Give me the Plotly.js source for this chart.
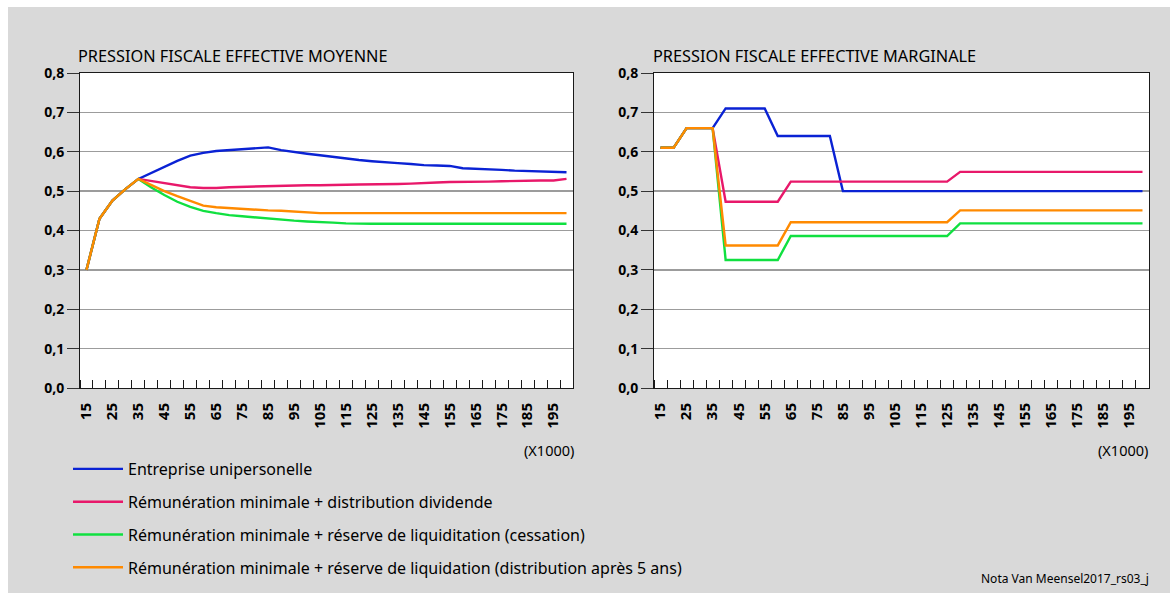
<!DOCTYPE html>
<html>
<head>
<meta charset="utf-8">
<script src="https://cdn.plot.ly/plotly-3.0.1.min.js"></script>
<style>html,body{margin:0;padding:0;background:#fff;}#chart{width:1170px;height:593px;}</style>
</head>
<body>
<div id="chart"></div>
<script>
// Income levels (x1000 EUR)
const incomes = [15,20,25,30,35,40,45,50,55,60,65,70,75,80,85,90,95,100,105,110,115,120,125,130,135,140,145,150,155,160,165,170,175,180,185,190,195,200];

const seriesNames = [
  "Entreprise unipersonelle",
  "Rémunération minimale + distribution dividende",
  "Rémunération minimale + réserve de liquiditation (cessation)",
  "Rémunération minimale + réserve de liquidation (distribution après 5 ans)"
];
const seriesColors = ["#0a22d4", "#e8186a", "#10e040", "#ff8a00"];

// Pression fiscale effective moyenne
const avgEntreprise = [0.300,0.430,0.476,0.505,0.531,0.547,0.562,0.577,0.590,0.597,0.602,0.604,0.607,0.609,0.611,0.604,0.599,0.595,0.591,0.587,0.582,0.579,0.576,0.573,0.571,0.569,0.566,0.565,0.564,0.558,0.557,0.555,0.554,0.552,0.551,0.549,0.548,0.548];
const avgDividende = [0.300,0.430,0.476,0.505,0.531,0.526,0.521,0.515,0.510,0.508,0.508,0.510,0.511,0.512,0.513,0.513,0.514,0.515,0.515,0.515,0.516,0.517,0.517,0.518,0.518,0.519,0.521,0.522,0.523,0.523,0.523,0.524,0.525,0.526,0.527,0.527,0.527,0.531];
const avgCessation = [0.300,0.430,0.476,0.505,0.531,0.509,0.490,0.473,0.460,0.450,0.444,0.439,0.436,0.433,0.430,0.428,0.425,0.423,0.422,0.420,0.418,0.417,0.417,0.417,0.417,0.417,0.417,0.417,0.417,0.417,0.417,0.417,0.417,0.417,0.417,0.417,0.417,0.417];
const avgDistribution = [0.300,0.430,0.476,0.505,0.531,0.515,0.500,0.487,0.474,0.463,0.459,0.457,0.454,0.452,0.451,0.450,0.448,0.446,0.444,0.444,0.444,0.443,0.443,0.443,0.443,0.443,0.443,0.444,0.444,0.444,0.444,0.444,0.444,0.444,0.444,0.444,0.444,0.444];

// Pression fiscale effective marginale
const margEntreprise = [0.610,0.610,0.660,0.660,0.660,0.710,0.710,0.710,0.710,0.640,0.640,0.640,0.640,0.640,0.500,0.500,0.500,0.500,0.500,0.500,0.500,0.500,0.500,0.500,0.500,0.500,0.500,0.500,0.500,0.500,0.500,0.500,0.500,0.500,0.500,0.500,0.500,0.500];
const margDividende = [0.610,0.610,0.660,0.660,0.660,0.473,0.473,0.473,0.473,0.473,0.524,0.524,0.524,0.524,0.524,0.524,0.524,0.524,0.524,0.524,0.524,0.524,0.524,0.549,0.549,0.549,0.549,0.549,0.549,0.549,0.549,0.549,0.549,0.549,0.549,0.549,0.549,0.549];
const margCessation = [0.610,0.610,0.660,0.660,0.660,0.325,0.325,0.325,0.325,0.325,0.386,0.386,0.386,0.386,0.386,0.386,0.386,0.386,0.386,0.386,0.386,0.386,0.386,0.418,0.418,0.418,0.418,0.418,0.418,0.418,0.418,0.418,0.418,0.418,0.418,0.418,0.418,0.418];
const margDistribution = [0.610,0.610,0.660,0.660,0.660,0.362,0.362,0.362,0.362,0.362,0.421,0.421,0.421,0.421,0.421,0.421,0.421,0.421,0.421,0.421,0.421,0.421,0.421,0.451,0.451,0.451,0.451,0.451,0.451,0.451,0.451,0.451,0.451,0.451,0.451,0.451,0.451,0.451];

const chartTitles = ["PRESSION FISCALE EFFECTIVE MOYENNE", "PRESSION FISCALE EFFECTIVE MARGINALE"];
const unitLabel = "(X1000)";
const sourceNote = "Nota Van Meensel2017_rs03_j";

const W = 1170, H = 593;
const px = v => v / W;
const py = v => 1 - v / H;

const avgSeries = [avgEntreprise, avgDividende, avgCessation, avgDistribution];
const margSeries = [margEntreprise, margDividende, margCessation, margDistribution];

const traces = [];
avgSeries.forEach((ys, i) => {
  traces.push({
    x: incomes, y: ys, type: 'scatter', mode: 'lines',
    name: seriesNames[i], legendgroup: 'g' + i, showlegend: true,
    line: {color: seriesColors[i], width: 2.4},
    xaxis: 'x', yaxis: 'y', hoverinfo: 'skip'
  });
});
margSeries.forEach((ys, i) => {
  traces.push({
    x: incomes, y: ys, type: 'scatter', mode: 'lines',
    name: seriesNames[i], legendgroup: 'g' + i, showlegend: false,
    line: {color: seriesColors[i], width: 2.4},
    xaxis: 'x2', yaxis: 'y2', hoverinfo: 'skip'
  });
});

const baseFont = "Noto Sans, Open Sans, sans-serif";

function xAxis(domain, anchor) {
  return {
    domain: domain, anchor: anchor,
    range: [12.5, 202.5],
    tickmode: 'linear', tick0: 15, dtick: 10,
    ticks: '', tickangle: -90, ticklabelstandoff: 8,
    tickfont: {family: baseFont, size: 15, color: '#000', weight: 'bold'},
    showgrid: false, zeroline: false,
    showline: true, linecolor: '#1a1a1a', linewidth: 1, mirror: true,
    minor: {tickmode: 'linear', tick0: 12.5, dtick: 5, ticks: 'inside', ticklen: 8, tickcolor: '#1a1a1a', tickwidth: 1, showgrid: false},
    fixedrange: true
  };
}
function yAxis(anchor) {
  return {
    domain: [py(388), py(73)], anchor: anchor,
    range: [0, 0.8], tickmode: 'linear', tick0: 0, dtick: 0.1, tickformat: '.1f',
    ticks: 'outside', ticklen: 12, tickcolor: '#333', tickwidth: 1,
    tickfont: {family: baseFont, size: 14, color: '#000', weight: 'bold'},
    showgrid: true, gridcolor: '#9c9c9c', gridwidth: 1.3,
    zeroline: false,
    showline: true, linecolor: '#1a1a1a', linewidth: 1, mirror: true,
    fixedrange: true
  };
}

const layout = {
  width: W, height: H,
  margin: {l: 0, r: 0, t: 0, b: 0},
  paper_bgcolor: '#d9d9d9', plot_bgcolor: '#ffffff',
  separators: ', ',
  font: {family: baseFont, color: '#000'},
  xaxis: xAxis([px(80), px(573)], 'y'),
  yaxis: yAxis('x'),
  xaxis2: xAxis([px(654), px(1149)], 'y2'),
  yaxis2: yAxis('x2'),
  showlegend: true,
  legend: {
    x: px(68), y: py(452), xanchor: 'left', yanchor: 'top',
    orientation: 'v', bgcolor: 'rgba(0,0,0,0)',
    font: {family: baseFont, size: 16, color: '#000'},
    tracegroupgap: 9, traceorder: 'grouped', itemwidth: 50
  },
  shapes: [
    {type: 'rect', xref: 'paper', yref: 'paper', x0: 0, x1: 1, y0: py(7), y1: 1, fillcolor: '#ffffff', line: {width: 0}, layer: 'below'},
    {type: 'rect', xref: 'paper', yref: 'paper', x0: 0, x1: px(8), y0: 0, y1: 1, fillcolor: '#ffffff', line: {width: 0}, layer: 'below'}
  ],
  annotations: [
    {text: chartTitles[0], xref: 'paper', yref: 'paper', x: px(76), y: py(69), xanchor: 'left', yanchor: 'bottom', showarrow: false, font: {family: baseFont, size: 16.3, color: '#000'}},
    {text: chartTitles[1], xref: 'paper', yref: 'paper', x: px(651), y: py(69), xanchor: 'left', yanchor: 'bottom', showarrow: false, font: {family: baseFont, size: 16.3, color: '#000'}},
    {text: unitLabel, xref: 'paper', yref: 'paper', x: px(576), y: py(450), xanchor: 'right', yanchor: 'middle', showarrow: false, font: {family: baseFont, size: 14.5, color: '#000'}},
    {text: unitLabel, xref: 'paper', yref: 'paper', x: px(1150), y: py(450), xanchor: 'right', yanchor: 'middle', showarrow: false, font: {family: baseFont, size: 14.5, color: '#000'}},
    {text: sourceNote, xref: 'paper', yref: 'paper', x: px(1151), y: py(578), xanchor: 'right', yanchor: 'middle', showarrow: false, font: {family: baseFont, size: 12, color: '#000'}}
  ]
};

Plotly.newPlot('chart', traces, layout, {displayModeBar: false, staticPlot: true});
</script>
</body>
</html>
